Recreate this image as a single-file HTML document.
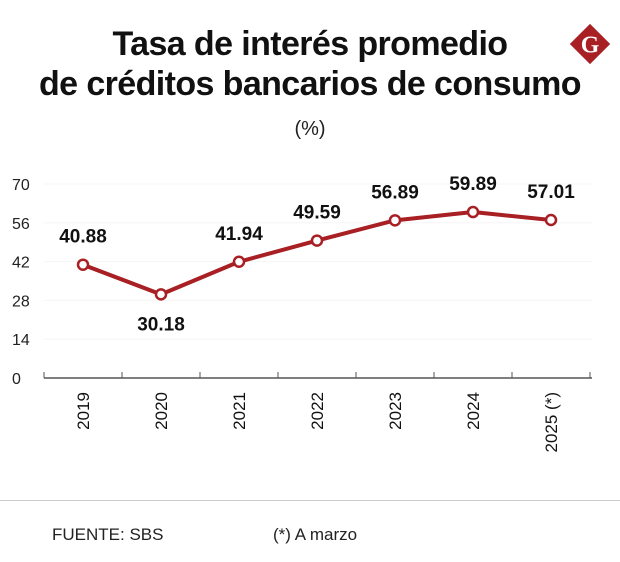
<!DOCTYPE html>
<html><head><meta charset="utf-8"><style>
body{margin:0;width:620px;height:562px;background:#fff;font-family:"Liberation Sans",sans-serif;overflow:hidden;position:relative}
.t{position:absolute;left:0;width:620px;text-align:center;font-weight:bold;font-size:34px;color:#111;letter-spacing:-0.6px;line-height:40px}
</style></head><body>
<div class="t" style="top:24px">Tasa de interés promedio<br>de créditos bancarios de consumo</div>
<div style="position:absolute;top:118px;left:0;width:620px;text-align:center;font-size:20px;color:#222">(%)</div>
<svg style="position:absolute;left:568px;top:22px" width="44" height="44" viewBox="0 0 48 48"><polygon points="24,2 46,24 24,46 2,24" fill="#a81f24"/><text x="24" y="33" text-anchor="middle" font-family="Liberation Serif,serif" font-weight="bold" font-size="26" fill="#fff">G</text></svg>
<svg id="c" width="620" height="490" style="position:absolute;left:0;top:0"></svg>
<div style="position:absolute;left:0;top:500px;width:620px;height:1px;background:#ccc"></div>
<div style="position:absolute;left:52px;top:525px;font-size:17px;color:#222">FUENTE: SBS</div>
<div style="position:absolute;left:273px;top:525px;font-size:17px;color:#222">(*) A marzo</div>
<script>
const categories=["2019","2020","2021","2022","2023","2024","2025 (*)"];
const values=[40.88,30.18,41.94,49.59,56.89,59.89,57.01];
const labels=["40.88","30.18","41.94","49.59","56.89","59.89","57.01"];
const ticks=[0,14,28,42,56,70];
const svg=document.getElementById('c'),NS='http://www.w3.org/2000/svg';
const x0=44,step=78,yb=378,yt=184,ymax=70;
const X=i=>x0+step*(i+0.5), Y=v=>yb-(v/ymax)*(yb-yt);
function mk(t,a){const e=document.createElementNS(NS,t);for(const k in a)e.setAttribute(k,a[k]);svg.appendChild(e);return e;}
ticks.forEach(t=>{
 if(t>0){const g=mk('line',{x1:x0,x2:592,y1:Y(t),y2:Y(t),stroke:'#f5f5f5'});}
 const l=mk('text',{x:12,y:Y(t)+6,'font-size':16,fill:'#222'});l.textContent=t;
 
});
const ax=mk('line',{x1:x0,x2:592,y1:yb,y2:yb,stroke:'#555','stroke-width':1.5});

for(let i=0;i<=categories.length;i++){const tk=mk('line',{x1:x0+step*i,x2:x0+step*i,y1:yb-6,y2:yb,stroke:'#555'});}
categories.forEach((c,i)=>{const t=mk('text',{transform:`translate(${X(i)+6},${yb+14}) rotate(-90)`,'text-anchor':'end','font-size':17,fill:'#111'});t.textContent=c;
 });
const p=mk('polyline',{points:values.map((v,i)=>X(i)+','+Y(v)).join(' '),fill:'none',stroke:'#a81f24','stroke-width':4,'stroke-linejoin':'round'});

values.forEach((v,i)=>{const c=mk('circle',{cx:X(i),cy:Y(v),r:5,fill:'#fff',stroke:'#a81f24','stroke-width':2.5});
 
 const below=i===1;const t=mk('text',{x:X(i),y:below?Y(v)+36:Y(v)-22,'text-anchor':'middle','font-size':19,'font-weight':'bold',fill:'#111'});
 t.textContent=labels[i];});
</script>
</body></html>
